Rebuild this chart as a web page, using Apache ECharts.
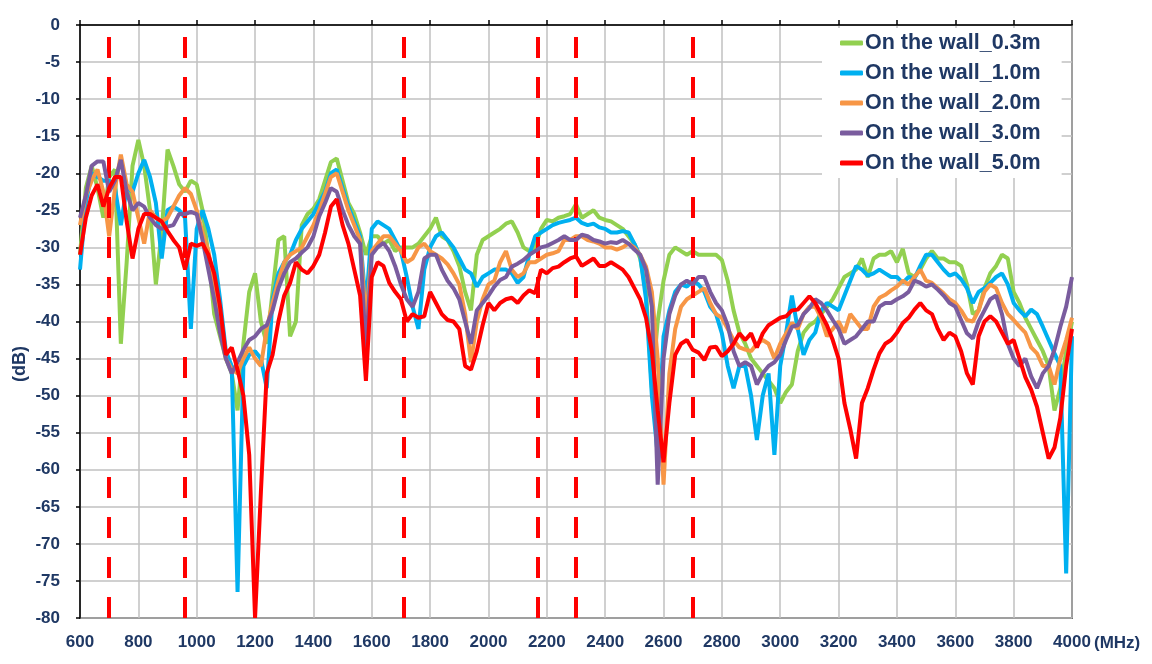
<!DOCTYPE html>
<html>
<head>
<meta charset="utf-8">
<script src="https://cdn.jsdelivr.net/npm/echarts@6/dist/echarts.min.js"></script>
<style>
html,body{margin:0;padding:0;background:#fff;}
#chart{width:1152px;height:664px;}
</style>
</head>
<body>
<div id="chart"></div>
<script>
// Frequency grid (MHz)
const freq = [600,620,640,660,680,700,720,740,760,780,
800,820,840,860,880,900,920,940,960,980,
1000,1020,1040,1060,1080,1100,1120,1140,1160,1180,
1200,1220,1240,1260,1280,1300,1320,1340,1360,1380,
1400,1420,1440,1460,1480,1500,1520,1540,1560,1580,
1600,1620,1640,1660,1680,1700,1720,1740,1760,1780,
1800,1820,1840,1860,1880,1900,1920,1940,1960,1980,
2000,2020,2040,2060,2080,2100,2120,2140,2160,2180,
2200,2220,2240,2260,2280,2300,2320,2340,2360,2380,
2400,2420,2440,2460,2480,2500,2520,2540,2560,2580,
2600,2620,2640,2660,2680,2700,2720,2740,2760,2780,
2800,2820,2840,2860,2880,2900,2920,2940,2960,2980,
3000,3020,3040,3060,3080,3100,3120,3140,3160,3180,
3200,3220,3240,3260,3280,3300,3320,3340,3360,3380,
3400,3420,3440,3460,3480,3500,3520,3540,3560,3580,
3600,3620,3640,3660,3680,3700,3720,3740,3760,3780,
3800,3820,3840,3860,3880,3900,3920,3940,3960,3980,
4000];

const wall03 = [-31,-22,-19,-22,-26,-20.5,-19.5,-43,-32,-19,
-15.5,-19,-25,-35,-28,-16.8,-19,-21.5,-22.5,-21,
-21.5,-25,-31,-39,-42,-45,-47,-52,-43,-36,
-33.5,-40,-43,-36,-29,-28.5,-42,-40,-27,-25.5,
-24.8,-23.5,-21,-18.5,-18,-21,-24,-25.5,-28,-31,
-28.5,-28.5,-29.5,-29,-30.5,-30,-30,-30,-29.5,-28.5,
-27.5,-26,-28.5,-29,-30.5,-32.5,-36,-38.5,-31,-29,
-28.5,-28,-27.5,-26.8,-26.5,-28,-30,-30.5,-30,-27.5,
-26.3,-26.5,-26,-25.8,-25.5,-24.2,-26,-25.5,-25,-26,
-26.3,-26.5,-27,-27.5,-28.5,-29.5,-31.5,-36,-49,-40,
-34.5,-31,-30,-30.5,-31,-30.5,-31,-31,-31,-31,
-31.7,-34.5,-38.5,-41.5,-43,-45,-46,-47,-48,-49,
-51,-49.5,-48.5,-44,-41.5,-40.5,-40,-39,-38,-37,
-35.5,-34,-33.5,-33,-31.5,-34,-31.5,-31,-31,-30.5,
-32,-30.2,-33.5,-34,-33,-31.5,-30.5,-31.5,-31.5,-32,
-32,-32.5,-35,-39,-38.5,-35.5,-33.5,-32.5,-31,-31.5,
-36,-37.5,-39.5,-41,-42.5,-44,-46,-52,-49,-44,
-40];

const wall10 = [-33,-24,-20,-20.5,-21,-21,-22,-27,-22,-22.5,
-20,-18.2,-20.5,-24,-31.5,-25,-24.5,-25,-26,-41,
-27.5,-25,-27.5,-31,-37,-44,-46,-76.5,-46,-44.5,
-44,-45,-49,-37,-33.5,-32,-31,-29,-27.5,-26.5,
-25.5,-24,-22.5,-20,-19.5,-22,-24.5,-26.5,-28.5,-38,
-27.5,-26.5,-27,-27.5,-29,-30.5,-34,-38,-41,-33,
-30,-28.5,-28,-29,-30,-31.5,-33,-33.5,-35.3,-34,
-33.5,-33,-33,-33,-33.5,-34.8,-34,-31,-28.5,-28,
-27.5,-27,-26.7,-26.5,-26.3,-26,-26.7,-27,-26.8,-27.3,
-27.5,-28,-28,-27.8,-28,-29.5,-31.2,-37,-50,-58,
-42,-38.5,-36,-35,-35.3,-34.5,-35,-36,-38,-39,
-41.6,-46,-49,-46,-46,-50,-56,-50,-47,-58,
-46,-41.6,-36.5,-41,-44.5,-42.5,-41.5,-38.5,-37.5,-38,
-38.5,-36.5,-34.5,-32.5,-33,-33.8,-33.5,-33,-33.5,-34,
-34,-34.8,-34,-34.2,-32.5,-31,-31,-32,-33,-33.8,
-33.5,-34.3,-35.5,-37.5,-36,-35.5,-34.8,-34,-33.5,-35,
-37.5,-38.5,-39.3,-38.4,-39,-40.7,-42.5,-44.3,-46,-74,
-42];

const wall20 = [-27,-23,-21,-19.5,-22.5,-28.5,-22,-17.5,-21.5,-22.5,
-26,-29.5,-25,-26,-26.5,-26,-24.5,-23,-22,-22.8,
-25,-28,-30.5,-35,-40,-45,-46.5,-47,-45,-43.5,
-45,-46,-41,-37.5,-34.5,-32,-31,-30.5,-30,-28.5,
-27,-25,-22.8,-20.5,-20,-22.5,-25,-27,-29,-40,
-30.5,-29.5,-28.5,-28.5,-29.5,-30.5,-32,-31.5,-30,-29.5,
-30.5,-31,-31.5,-32.3,-33.5,-35,-39,-45.5,-40,-37,
-35,-34.5,-32,-30.5,-33,-34,-33.5,-32,-32,-31.5,
-31,-30.8,-30.5,-29,-29,-28.5,-28.5,-29,-29.2,-29.5,
-30,-30,-30.3,-30,-29.5,-30,-31,-32.6,-36,-45,
-62,-47,-41,-38,-37,-36.5,-36,-35.5,-37.5,-39,
-39.5,-41,-42.5,-43.5,-43.8,-44,-43,-42.5,-43,-45,
-43,-41.6,-40.2,-41,-39,-38,-38,-39.5,-42,-41,
-40,-41.5,-39,-40,-41,-41,-38,-36.8,-36.4,-35.8,
-35.3,-34.5,-35,-34,-33,-34.5,-34.8,-35.5,-36.2,-37,
-37.5,-38.5,-39.8,-40,-38.5,-36,-35,-35.5,-37.5,-39,
-39.8,-40.7,-41.5,-43.5,-44.3,-46,-46,-48.5,-45,-42.5,
-39.5];

const wall30 = [-26,-23,-19,-18.4,-18.4,-22.5,-21,-18.2,-22.5,-25,
-24,-24.5,-26,-27,-27.5,-27.2,-27,-25.5,-25.5,-25.2,
-25.5,-29,-33,-37,-41.5,-45,-47,-45.5,-43.8,-42.5,
-42,-41,-40.5,-38.5,-35.5,-33.5,-32,-31.5,-30.7,-30,
-28.5,-25.8,-24,-22,-22.5,-25,-27,-28.5,-29.5,-44,
-31,-30,-29.4,-30.5,-32.5,-35,-37,-38,-36,-31.5,
-31,-31,-33,-34.5,-35.5,-37,-40,-43,-38.5,-37.5,
-36.5,-35.3,-34.4,-34,-32.6,-32.2,-31.7,-31,-30.5,-30,
-29.8,-29.4,-29,-28.5,-29,-29,-28.3,-28.5,-29,-29.2,
-29.5,-29.3,-29.4,-29,-29.5,-30.3,-31,-33,-38,-62,
-45,-39,-36.5,-35,-34.5,-35,-34,-34,-36,-37.5,
-38.5,-40.5,-44,-46,-45.5,-46,-48.5,-47,-46,-45.5,
-44.5,-42.5,-40.7,-40.5,-39,-38.2,-37,-37.5,-38.5,-39.8,
-41,-43,-42.5,-42,-41,-40,-40,-38,-37.5,-37.5,
-37,-36.6,-36,-34.5,-34.8,-35.3,-35,-35.7,-36.5,-37.5,
-38,-39.8,-41.6,-42.3,-40,-38.5,-37,-36.5,-39,-43,
-45,-46,-45,-47.4,-49,-47,-46,-43.8,-40.7,-38,
-34];

const wall50 = [-31,-26,-23,-21.5,-24.5,-22,-20.5,-20.5,-26.5,-31.5,
-27.5,-25.5,-25.5,-26,-26.5,-27.8,-29,-30,-33,-29.5,
-29.8,-29.5,-31,-33.5,-38,-44.5,-43.5,-46.5,-50,-58,
-80,-63,-47,-44.5,-40,-36.5,-34.8,-32,-33,-33.5,
-32.5,-31,-28,-24.5,-23.5,-27,-29.5,-33,-36.5,-48,
-34,-32,-32.5,-34.8,-36,-37,-40,-39,-39.5,-39.3,
-36,-37.5,-39,-39.8,-40,-41,-46,-46.5,-44,-40.5,
-37.5,-38.5,-37.5,-37,-36.8,-37.5,-36.5,-35.8,-36.2,-33,
-33.5,-32.8,-32.6,-32,-31.5,-31.2,-32.5,-32,-31.5,-32.5,
-32.5,-32,-32.5,-33,-34,-35.5,-37,-39.5,-44,-52,
-59,-51,-44.5,-43,-42.5,-43.8,-44.2,-45.2,-43.5,-43.4,
-44.7,-44,-43,-41.6,-42.5,-41.6,-43.5,-41.6,-40.5,-40,
-39.5,-39.3,-38.5,-38.4,-37.5,-36.6,-37.5,-39,-40.5,-42.5,
-45,-51,-54.5,-58.5,-51,-49,-46.5,-44.3,-43,-42.5,
-41.5,-40.2,-39.5,-38.4,-37.5,-38.5,-39,-41,-42.5,-41.5,
-42,-44,-47,-48.5,-42,-40,-39.3,-40,-41.5,-43,
-42.5,-45,-47.5,-49.2,-51.5,-55,-58.5,-57,-53,-46,
-41];

// Marked frequency bands (MHz)
const bandMarks = [700, 960, 1710, 2170, 2300, 2700];

const seriesNames = ['On the wall_0.3m','On the wall_1.0m','On the wall_2.0m','On the wall_3.0m','On the wall_5.0m'];
const seriesValues = [wall03, wall10, wall20, wall30, wall50];
const seriesColors = ['#92D050','#00B0F0','#F79646','#7A5C9E','#FF0000'];

const FONT = "'Liberation Sans Narrow','Arial Narrow','Liberation Sans',Arial,sans-serif";
const TXT = '#1F3864';

const chart = echarts.init(document.getElementById('chart'), null, {renderer:'canvas'});

const series = seriesNames.map((n, k) => ({
  name: n,
  type: 'line',
  data: freq.map((f, i) => [f, seriesValues[k][i]]),
  showSymbol: false,
  symbol: 'none',
  lineStyle: {color: seriesColors[k], width: 4},
  itemStyle: {color: seriesColors[k]},
  z: 2 + k,
  silent: true
}));

series.push({
  name: 'bands',
  type: 'line',
  data: [],
  z: 10,
  silent: true,
  markLine: {
    silent: true,
    symbol: ['none','none'],
    label: {show: false},
    animation: false,
    lineStyle: {color: '#FF0000', width: 4, type: [21, 19], cap: 'butt'},
    emphasis: {disabled: true},
    data: bandMarks.map(f => [{coord: [f, -80]}, {coord: [f, 0]}])
  }
});

chart.setOption({
  animation: false,
  backgroundColor: '#fff',
  grid: {left: 80, right: 80, top: 25, bottom: 46, show: true, borderColor: '#000', borderWidth: 1.5, backgroundColor: 'transparent'},
  legend: {
    data: seriesNames,
    orient: 'vertical',
    left: 822,
    top: 28,
    padding: [2, 21, 2, 18],
    itemGap: 4,
    itemWidth: 23,
    itemHeight: 5,
    icon: 'roundRect',
    backgroundColor: '#fff',
    selectedMode: false,
    textStyle: {fontFamily: FONT, fontSize: 21.5, color: TXT, fontWeight: 'bold', lineHeight: 26, padding: [0,0,0,-3]}
  },
  xAxis: {
    type: 'value', min: 600, max: 4000, interval: 200,
    axisLine: {show: true, lineStyle: {color: '#000', width: 1.5}},
    axisTick: {show: true, inside: true, length: 5, lineStyle: {color: '#000', width: 1.5}},
    splitLine: {show: true, lineStyle: {color: '#C0C0C0', width: 1.5}},
    axisLabel: {margin: 16, fontFamily: FONT, fontSize: 17, fontWeight: 'bold', color: TXT, formatter: v => String(v)}
  },
  yAxis: {
    type: 'value', min: -80, max: 0, interval: 5,
    axisLine: {show: true, lineStyle: {color: '#000', width: 1.5}},
    axisTick: {show: true, inside: false, length: 4, lineStyle: {color: '#000', width: 1.5}},
    splitLine: {show: true, lineStyle: {color: '#C0C0C0', width: 1.5}},
    axisLabel: {margin: 20, fontFamily: FONT, fontSize: 17, fontWeight: 'bold', color: TXT, formatter: v => String(v)}
  },
  graphic: [
    {type: 'text', x: 20, y: 364, rotation: Math.PI/2,
     style: {text: '(dB)', align: 'center', verticalAlign: 'middle', fontFamily: FONT, fontSize: 18, fontWeight: 'bold', fill: TXT}},
    {type: 'text', x: 1094, y: 643,
     style: {text: '(MHz)', align: 'left', verticalAlign: 'middle', fontFamily: FONT, fontSize: 17, fontWeight: 'bold', fill: TXT}}
  ],
  series: series
});
</script>
</body>
</html>
